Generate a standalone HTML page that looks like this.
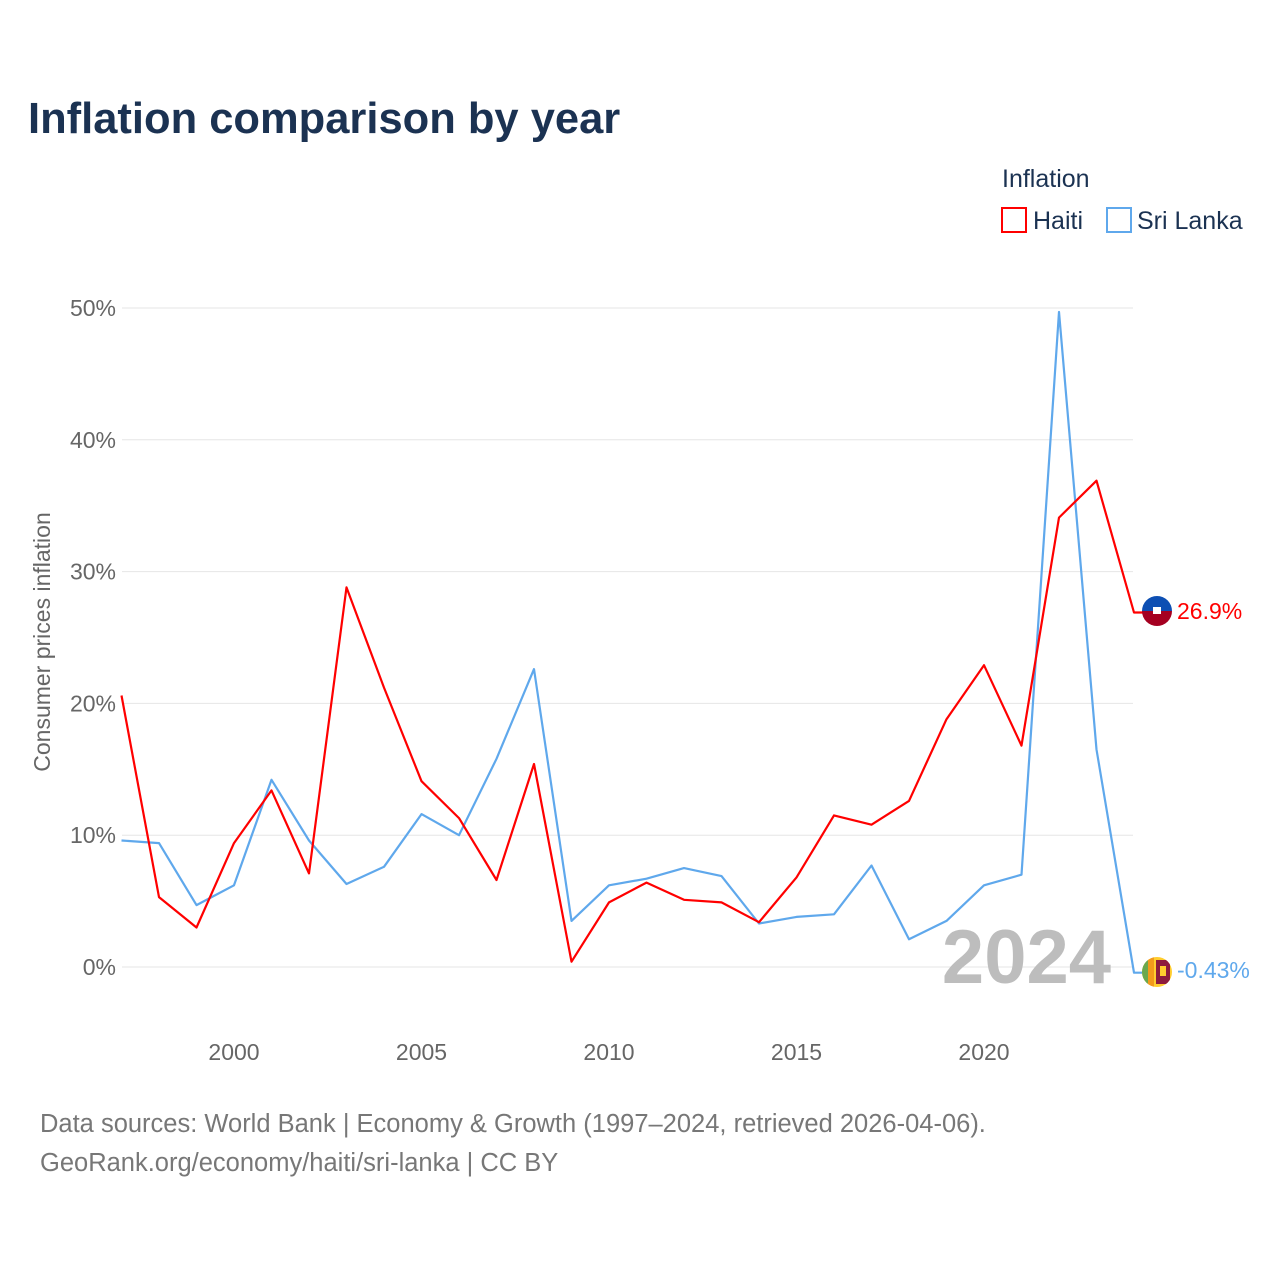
<!DOCTYPE html>
<html><head><meta charset="utf-8"><style>
body{margin:0;background:#fff;font-family:"Liberation Sans",sans-serif}
</style></head><body>
<svg width="1280" height="1280" xmlns="http://www.w3.org/2000/svg" font-family="Liberation Sans, sans-serif">
<text x="28" y="133" font-size="43.5" font-weight="bold" fill="#1b3252">Inflation comparison by year</text>
<text x="1002" y="187" font-size="25" fill="#1b3252">Inflation</text>
<g><rect x="1002" y="208" width="24" height="24" fill="none" stroke="#ff0000" stroke-width="2"/><text x="1033" y="229" font-size="25" fill="#1b3252">Haiti</text></g>
<g><rect x="1107" y="208" width="24" height="24" fill="none" stroke="#5fa8ec" stroke-width="2"/><text x="1137" y="229" font-size="25" fill="#1b3252">Sri Lanka</text></g>
<g id="grid"></g>
<text transform="translate(50,642) rotate(-90)" text-anchor="middle" font-size="23" fill="#666">Consumer prices inflation</text>
<text x="1111" y="983" text-anchor="end" font-size="76" font-weight="bold" fill="#bdbdbd">2024</text>
<g id="series"></g>
<g><clipPath id="c1"><circle cx="1157" cy="611" r="15"/></clipPath><g clip-path="url(#c1)"><rect x="1142" y="596" width="30" height="15" fill="#0d4fb3"/><rect x="1142" y="611" width="30" height="15" fill="#a50021"/><rect x="1153" y="607" width="8" height="7" fill="#fff"/></g></g>
<g><clipPath id="c2"><circle cx="1157" cy="972" r="15"/></clipPath><g clip-path="url(#c2)"><rect x="1142" y="957" width="30" height="30" fill="#ffcd2f"/><rect x="1142" y="957" width="6" height="30" fill="#6aa84f"/><rect x="1148" y="957" width="6" height="30" fill="#f29a1c"/><rect x="1156" y="960" width="14" height="24" fill="#8d1b3d"/><rect x="1160" y="966" width="6" height="10" fill="#ffcd2f"/></g></g>
<text x="1177" y="619" font-size="23" fill="#ff0000">26.9%</text>
<text x="1177" y="978" font-size="23" fill="#5fa8ec">-0.43%</text>
<text x="40" y="1132" font-size="25.5" fill="#777">Data sources: World Bank | Economy &amp; Growth (1997–2024, retrieved 2026-04-06).</text>
<text x="40" y="1171" font-size="25.5" fill="#777">GeoRank.org/economy/haiti/sri-lanka | CC BY</text>
</svg>
<script>
const years=[1997,1998,1999,2000,2001,2002,2003,2004,2005,2006,2007,2008,2009,2010,2011,2012,2013,2014,2015,2016,2017,2018,2019,2020,2021,2022,2023,2024];
const haiti=[20.6,5.3,3.0,9.4,13.4,7.1,28.8,21.2,14.1,11.3,6.6,15.4,0.4,4.9,6.4,5.1,4.9,3.4,6.8,11.5,10.8,12.6,18.8,22.9,16.8,34.1,36.9,26.9];
const sriLanka=[9.6,9.4,4.7,6.2,14.2,9.6,6.3,7.6,11.6,10.0,15.8,22.6,3.5,6.2,6.7,7.5,6.9,3.3,3.8,4.0,7.7,2.1,3.5,6.2,7.0,49.7,16.5,-0.43];
const yTicks=[0,10,20,30,40,50];
const xTicks=[2000,2005,2010,2015,2020];
const NS="http://www.w3.org/2000/svg";
const X=y=>234+(y-2000)*37.5;
const Y=v=>967-v*13.18;
function mk(t,a,p){const e=document.createElementNS(NS,t);for(const k in a)e.setAttribute(k,a[k]);p.appendChild(e);return e;}
const grid=document.getElementById('grid');
yTicks.forEach(v=>{
 const l=mk('line',{x1:122,x2:1133,y1:Y(v),y2:Y(v),stroke:'#e6e6e6','stroke-width':1},grid);
 
 
 const t=mk('text',{x:116,y:Y(v)+8,'text-anchor':'end','font-size':23,fill:'#666'},grid);
 t.textContent=v+'%';
 
 
});
xTicks.forEach(y=>{
 const t=mk('text',{x:X(y),y:1060,'text-anchor':'middle','font-size':23,fill:'#666'},grid);
 t.textContent=y;
 
 
});
const s=document.getElementById('series');
function line(vals,color,name){
 let d=vals.map((v,i)=>(i?'L':'M')+X(years[i]).toFixed(1)+','+Y(v).toFixed(1)).join('');
 d+='L1145,'+Y(vals[vals.length-1]).toFixed(1);
 const p=mk('path',{d:d,fill:'none',stroke:color,'stroke-width':2.2,'stroke-linejoin':'round'},s);
 
 
}
line(sriLanka,'#5fa8ec','sri-lanka-line');
line(haiti,'#ff0000','haiti-line');
</script>
</body></html>
